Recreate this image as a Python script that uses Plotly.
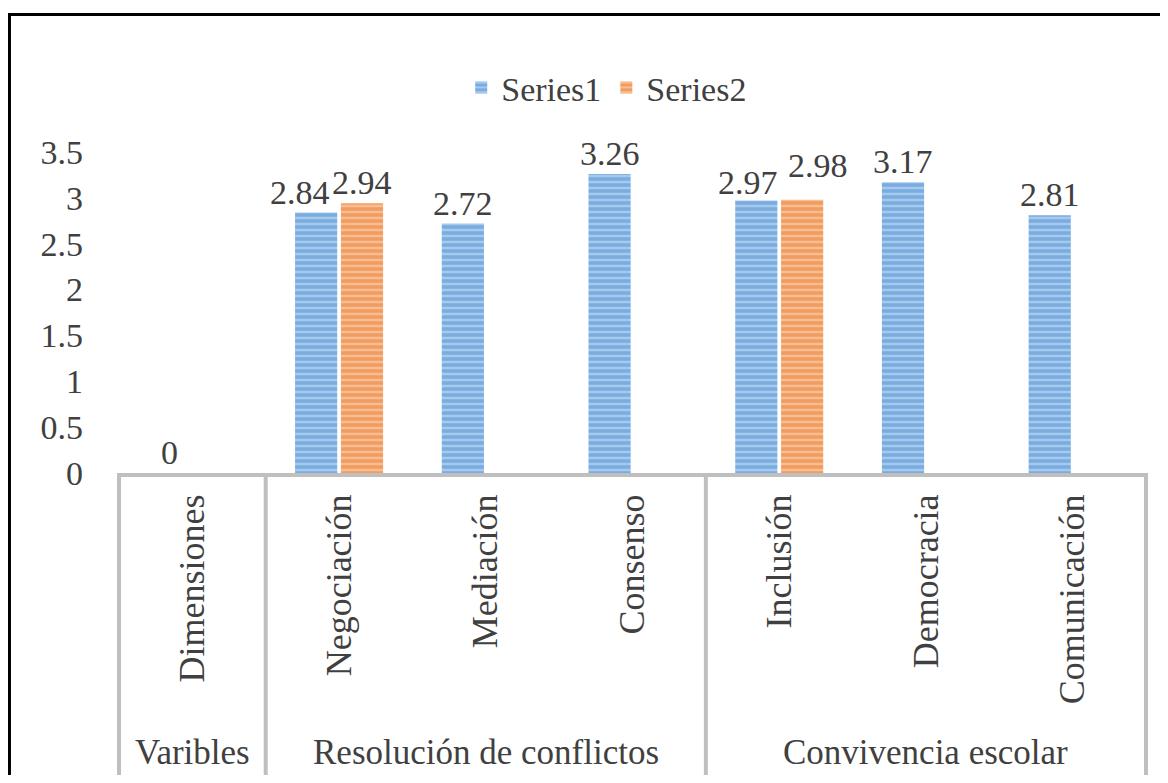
import plotly.graph_objects as go

# inner categories (dimensions) and their outer groups (variables)
categorias = ["Dimensiones", "Negociación", "Mediación", "Consenso",
              "Inclusión", "Democracia", "Comunicación"]
grupos = ["Varibles", "Resolución de conflictos", "Convivencia escolar"]
grupo_inicio = [0, 1, 4]
grupo_fin = [0, 3, 6]

serie1 = [0, 2.84, 2.72, 3.26, 2.97, 3.17, 2.81]
serie2 = [None, 2.94, None, None, 2.98, None, None]

y_ticks = [0, 0.5, 1, 1.5, 2, 2.5, 3, 3.5]

FONT = "Liberation Serif"
TXT = "#404040"
GRIS = "#bfbfbf"
BARGAP = 0.375

# the page body has an 8px margin, so the figure is drawn 8px smaller
W, H = 1152, 767

fig = go.Figure()

fig.add_trace(go.Bar(
    x=categorias, y=serie1, name="Series1",
    marker=dict(color="#a6c9ee", line=dict(width=0),
                pattern=dict(shape="-", fgcolor="#4f8fd2", size=6,
                             solidity=0.6, fillmode="overlay")),
))
fig.add_trace(go.Bar(
    x=categorias, y=serie2, name="Series2",
    marker=dict(color="#f8be93", line=dict(width=0),
                pattern=dict(shape="-", fgcolor="#ec7a2c", size=6,
                             solidity=0.6, fillmode="overlay")),
))

# value labels above the bars (Excel nudges the crowded pairs apart)
desplaza = {(1, 0): (-16, 0), (4, 0): (-8, -2), (4, 1): (16, 14)}
medio = (1 - BARGAP) / 4
for s, serie in enumerate([serie1, serie2]):
    for i, v in enumerate(serie):
        if v is None:
            continue
        dx, dy = desplaza.get((i, s), (0, 0))
        fig.add_annotation(x=i + (-medio if s == 0 else medio), y=v,
                           xref="x", yref="y", text=f"{v:g}",
                           showarrow=False, yanchor="bottom",
                           xshift=dx, yshift=dy,
                           font=dict(family=FONT, size=34, color=TXT))

# group labels under the rotated category labels
for nombre, a, b in zip(grupos, grupo_inicio, grupo_fin):
    fig.add_annotation(x=(a + b) / 2, y=-0.872, xref="x", yref="paper",
                       text=nombre, showarrow=False, yanchor="middle",
                       font=dict(family=FONT, size=35, color=TXT))

# vertical dividers between the groups
for pos in [-0.5] + [b + 0.5 for b in grupo_fin]:
    fig.add_shape(type="line", xref="x", yref="paper",
                  x0=pos, x1=pos, y0=0, y1=-0.95,
                  line=dict(color=GRIS, width=4))

# outer frame of the picture
fig.add_shape(type="rect", xref="paper", yref="paper",
              x0=-0.1043, x1=1.2, y0=-1.5, y1=1.428,
              line=dict(color="black", width=3))

fig.update_layout(
    width=W, height=H,
    margin=dict(l=109, r=12, t=144, b=302),
    paper_bgcolor="white", plot_bgcolor="white",
    barmode="group", bargap=BARGAP, bargroupgap=0.08,
    font=dict(family=FONT, color=TXT),
    legend=dict(orientation="h", x=0.475, xanchor="center",
                y=1.2, yanchor="middle",
                font=dict(family=FONT, size=34, color=TXT),
                itemwidth=30, bgcolor="rgba(0,0,0,0)"),
    showlegend=True,
)

fig.update_xaxes(
    type="category", tickangle=-90,
    tickfont=dict(family=FONT, size=36, color=TXT),
    showline=True, linecolor=GRIS, linewidth=4,
    showgrid=False, ticks="", ticklabelstandoff=3,
)
fig.update_yaxes(
    range=[0, 3.5], tickvals=y_ticks,
    ticktext=[f"{v:g}" for v in y_ticks],
    tickfont=dict(family=FONT, size=34, color=TXT),
    showline=False, showgrid=False, zeroline=False, ticks="",
    ticklabelstandoff=33,
)

fig.write_html("out.html")
